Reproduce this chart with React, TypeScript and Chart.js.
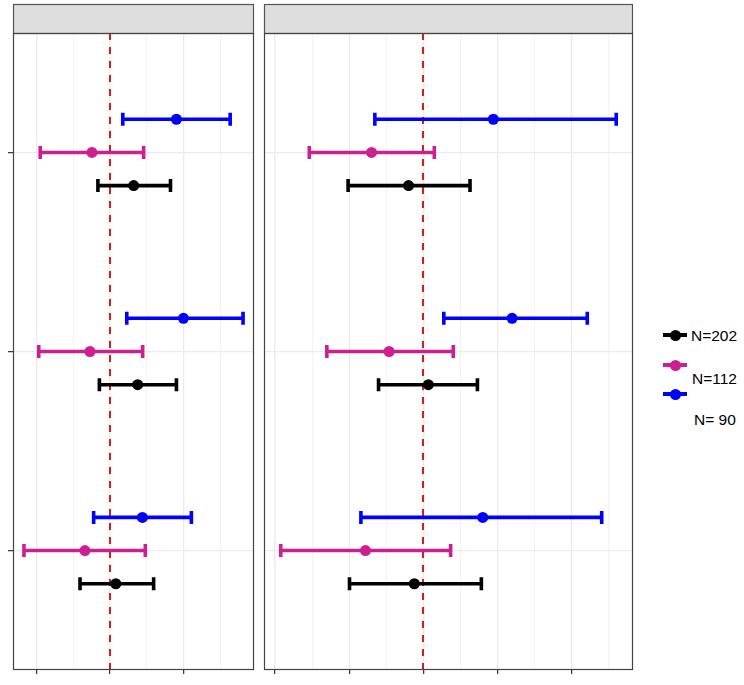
import React, { useEffect, useRef } from "react";
import { Chart, registerables } from "chart.js";

Chart.register(...registerables);

// ---------- data ----------
const categories = ["Outcome 1", "Outcome 2", "Outcome 3"]; // top → bottom
const categoryPos = [3, 2, 1];
const seriesNames = ["N=202", "N=112", "N= 90"];
const seriesColors = ["#000000", "#CD2090", "#0000FF"];
const referenceValue = 0;

// left panel
const leftEst202 = [0.324, 0.378, 0.081];
const leftLo202 = [-0.162, -0.142, -0.405];
const leftHi202 = [0.824, 0.905, 0.595];
const leftEst112 = [-0.243, -0.27, -0.338];
const leftLo112 = [-0.946, -0.966, -1.167];
const leftHi112 = [0.459, 0.446, 0.482];
const leftEst90 = [0.905, 1.0, 0.442];
const leftLo90 = [0.176, 0.23, -0.22];
const leftHi90 = [1.635, 1.81, 1.108];
const leftMajorTicks = [-1, 0, 1];
const leftMinorTicks = [-0.5, 0.5, 1.5];

// right panel
const rightEst202 = [-0.199, 0.068, -0.121];
const rightLo202 = [-1.015, -0.604, -0.996];
const rightHi202 = [0.631, 0.731, 0.784];
const rightEst112 = [-0.699, -0.461, -0.78];
const rightLo112 = [-1.539, -1.302, -1.924];
const rightHi112 = [0.149, 0.405, 0.369];
const rightEst90 = [0.946, 1.199, 0.803];
const rightLo90 = [-0.654, 0.277, -0.842];
const rightHi90 = [2.605, 2.214, 2.409];
const rightMajorTicks = [-2, -1, 0, 1, 2];
const rightMinorTicks = [-1.5, -0.5, 0.5, 1.5, 2.5];

// ---------- layout constants ----------
const dodgeOffsets = [-1 / 6, 0, 1 / 6];
const W = 744;
const H = 685;

type Panel = {
  est: number[][];
  lo: number[][];
  hi: number[][];
  major: number[];
  minor: number[];
  showY: boolean;
};

const panels: Panel[] = [
  {
    est: [leftEst202, leftEst112, leftEst90],
    lo: [leftLo202, leftLo112, leftLo90],
    hi: [leftHi202, leftHi112, leftHi90],
    major: leftMajorTicks,
    minor: leftMinorTicks,
    showY: true,
  },
  {
    est: [rightEst202, rightEst112, rightEst90],
    lo: [rightLo202, rightLo112, rightLo90],
    hi: [rightHi202, rightHi112, rightHi90],
    major: rightMajorTicks,
    minor: rightMinorTicks,
    showY: false,
  },
];

const forestPlugin = {
  id: "forest",
  beforeDatasetsDraw(chart: any, _args: any, opts: any) {
    const panel: Panel = opts.panel;
    const { ctx, chartArea: a } = chart;
    const x = chart.scales.x;
    const y = chart.scales.y;
    ctx.save();
    ctx.beginPath();
    ctx.rect(a.left, a.top, a.right - a.left, a.bottom - a.top);
    ctx.clip();
    // reference line
    const rx = Math.round(x.getPixelForValue(referenceValue));
    ctx.strokeStyle = "#D81B1B";
    ctx.lineWidth = 2;
    ctx.setLineDash([7, 7]);
    ctx.beginPath();
    ctx.moveTo(rx, a.bottom);
    ctx.lineTo(rx, a.top);
    ctx.stroke();
    ctx.setLineDash([]);
    // error bars
    ctx.lineCap = "butt";
    ctx.lineWidth = 3.6;
    for (let s = 0; s < seriesNames.length; s++) {
      ctx.strokeStyle = seriesColors[s];
      for (let c = 0; c < categoryPos.length; c++) {
        const py = y.getPixelForValue(categoryPos[c] + dodgeOffsets[s]);
        const x0 = x.getPixelForValue(panel.lo[s][c]);
        const x1 = x.getPixelForValue(panel.hi[s][c]);
        ctx.beginPath();
        ctx.moveTo(x0, py);
        ctx.lineTo(x1, py);
        ctx.moveTo(x0, py - 6.5);
        ctx.lineTo(x0, py + 6.5);
        ctx.moveTo(x1, py - 6.5);
        ctx.lineTo(x1, py + 6.5);
        ctx.stroke();
      }
    }
    ctx.restore();
  },
  afterDraw(chart: any) {
    const { ctx, chartArea: a } = chart;
    ctx.save();
    // strip
    const stripTop = 4;
    ctx.fillStyle = "#DEDEDE";
    ctx.fillRect(a.left, stripTop, a.right - a.left, a.top - stripTop);
    ctx.strokeStyle = "#555555";
    ctx.lineWidth = 1.2;
    ctx.strokeRect(a.left + 0.5, stripTop + 0.5, a.right - a.left - 1, a.top - stripTop);
    // panel border
    ctx.strokeStyle = "#444444";
    ctx.lineWidth = 1.2;
    ctx.strokeRect(a.left + 0.5, a.top + 0.5, a.right - a.left - 1, a.bottom - a.top - 1);
    ctx.restore();
  },
};

function makeConfig(panel: Panel, padLeft: number, padRight: number): any {
  const all = [...panel.lo.flat(), ...panel.hi.flat()];
  const mn = Math.min(...all);
  const mx = Math.max(...all);
  const ex = (mx - mn) * 0.05;
  const tickVals = [...panel.major, ...panel.minor].sort((p, q) => p - q);
  const majorSet = new Set(panel.major);
  const datasets = seriesNames.map((name, s) => ({
    label: name,
    data: categoryPos.map((p, c) => ({ x: panel.est[s][c], y: p + dodgeOffsets[s] })),
    backgroundColor: seriesColors[s],
    borderColor: seriesColors[s],
    pointRadius: 5.5,
    pointBorderWidth: 0,
    showLine: false,
  }));
  return {
    type: "scatter",
    data: { datasets },
    plugins: [forestPlugin],
    options: {
      animation: false,
      responsive: false,
      events: [],
      layout: {
        autoPadding: false,
        padding: { left: padLeft, right: padRight, top: 33, bottom: 11 },
      },
      plugins: {
        legend: { display: false },
        tooltip: { enabled: false },
        forest: { panel },
      },
      scales: {
        x: {
          type: "linear",
          min: mn - ex,
          max: mx + ex,
          afterBuildTicks: (sc: any) => {
            sc.ticks = tickVals.map((v) => ({ value: v }));
          },
          ticks: { display: false },
          border: { display: false },
          grid: {
            drawTicks: true,
            tickLength: 4,
            color: (c: any) => (majorSet.has(c.tick?.value) ? "#EBEBEB" : "#F2F2F2"),
            lineWidth: (c: any) => (majorSet.has(c.tick?.value) ? 1.3 : 0.9),
            tickColor: (c: any) => (majorSet.has(c.tick?.value) ? "#333333" : "rgba(0,0,0,0)"),
            tickWidth: 1.2,
          },
        },
        y: {
          type: "linear",
          min: 0.4,
          max: 3.6,
          afterBuildTicks: (sc: any) => {
            sc.ticks = categoryPos.map((v) => ({ value: v }));
          },
          ticks: { display: false },
          border: { display: false },
          grid: {
            drawTicks: panel.showY,
            tickLength: 5,
            color: "#EBEBEB",
            lineWidth: 1.3,
            tickColor: "#333333",
            tickWidth: 1.2,
          },
        },
      },
    },
  };
}

function PanelChart({ panel, left, width, padLeft, padRight }: any) {
  const ref = useRef<HTMLCanvasElement | null>(null);
  useEffect(() => {
    if (!ref.current) return;
    const chart = new Chart(ref.current, makeConfig(panel, padLeft, padRight));
    return () => chart.destroy();
  }, [panel, padLeft, padRight]);
  return (
    <canvas
      ref={ref}
      width={width}
      height={H}
      style={{ position: "absolute", left, top: 0, width, height: H, display: "block" }}
    />
  );
}

const legendKeyY = [335, 365, 394];
const legendLabelY = [336, 379, 420];

export default function App() {
  return (
    <div
      style={{
        position: "absolute",
        left: 0,
        top: 0,
        width: W,
        height: H,
        background: "#FFFFFF",
        overflow: "hidden",
      }}
    >
      <PanelChart panel={panels[0]} left={0} width={258} padLeft={8} padRight={4} />
      <PanelChart panel={panels[1]} left={258} width={380} padLeft={6} padRight={5} />
      {seriesNames.map((name, s) => (
        <React.Fragment key={name}>
          <div
            style={{
              position: "absolute",
              left: 663,
              top: legendKeyY[s] - 2,
              width: 24,
              height: 4,
              background: seriesColors[s],
            }}
          />
          <div
            style={{
              position: "absolute",
              left: 670,
              top: legendKeyY[s] - 5.5,
              width: 11,
              height: 11,
              borderRadius: "50%",
              background: seriesColors[s],
            }}
          />
          <div
            style={{
              position: "absolute",
              left: 691 + (s === 0 ? 0 : s === 1 ? 1 : 3),
              top: legendLabelY[s] - 9,
              height: 18,
              lineHeight: "18px",
              fontFamily: "'Liberation Sans', Arial, Helvetica, sans-serif",
              fontSize: 15.5,
              color: "#000000",
              whiteSpace: "pre",
            }}
          >
            {name}
          </div>
        </React.Fragment>
      ))}
    </div>
  );
}
